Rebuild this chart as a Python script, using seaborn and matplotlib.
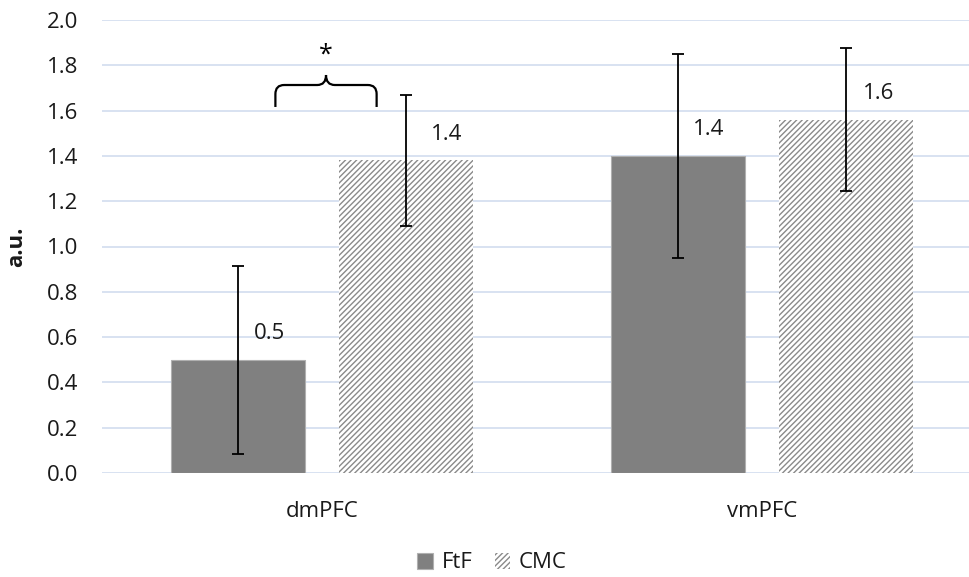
import matplotlib
matplotlib.use("Agg")
import matplotlib.pyplot as plt
from matplotlib.path import Path
from matplotlib.patches import PathPatch
import seaborn as sns
import pandas as pd

regions = ["dmPFC", "vmPFC"]
conditions = ["FtF", "CMC"]
ftf_values = [0.50, 1.40]
cmc_values = [1.38, 1.56]
ftf_errors = [0.415, 0.452]
cmc_errors = [0.29, 0.315]
value_labels_ftf = ["0.5", "1.4"]
value_labels_cmc = ["1.4", "1.6"]
y_ticks = [0.0, 0.2, 0.4, 0.6, 0.8, 1.0, 1.2, 1.4, 1.6, 1.8, 2.0]
y_label = "a.u."
sig_mark = "*"

sns.set_theme(style="white")
plt.rcParams["font.family"] = ["Open Sans", "DejaVu Sans"]
plt.rcParams["hatch.linewidth"] = 1.0

TXT = "#1a1a1a"
FS = 16

df = pd.DataFrame({
    "region": regions * 2,
    "condition": [conditions[0]] * 2 + [conditions[1]] * 2,
    "value": ftf_values + cmc_values,
})

fig = plt.figure(figsize=(9.69, 5.77), dpi=100)
ax = fig.add_axes([102 / 969, 104 / 577, 867 / 969, 453 / 577])

sns.barplot(data=df, x="region", y="value", hue="condition",
            palette=["#808080", "#ffffff"], width=0.764, gap=0.2,
            errorbar=None, legend=False, ax=ax, zorder=2)

# style bars
for p in ax.containers[0]:
    p.set_edgecolor("#b0b0b0")
    p.set_linewidth(0.8)
for p in ax.containers[1]:
    p.set_facecolor("white")
    p.set_edgecolor("#8a8a8a")
    p.set_hatch("//////")
    p.set_linewidth(0)

# error bars and value labels
errs = [ftf_errors, cmc_errors]
labs = [value_labels_ftf, value_labels_cmc]
dxs = [[23, 22], [29, 23]]
for ci, cont in enumerate(ax.containers[:2]):
    for bi, p in enumerate(cont):
        xc = p.get_x() + p.get_width() / 2
        h = p.get_height()
        ax.errorbar(xc, h, yerr=errs[ci][bi], fmt="none", ecolor="black",
                    elinewidth=1.3, capsize=4.5, capthick=1.3, zorder=4)
        ax.annotate(labs[ci][bi], (xc, h), xytext=(dxs[ci][bi], 19),
                    textcoords="offset points", ha="center", va="center",
                    fontsize=FS, color=TXT, zorder=5)

ax.set_xlim(-0.5, 1.47)
ax.set_ylim(0, 2.0)
ax.set_yticks(y_ticks)
ax.set_yticklabels([f"{t:.1f}" for t in y_ticks])
ax.yaxis.grid(True, color="#d5dff0", linewidth=1.3, zorder=0)
ax.set_axisbelow(True)
for s in ax.spines.values():
    s.set_visible(False)
ax.tick_params(axis="both", length=0, labelsize=FS, labelcolor=TXT)
ax.tick_params(axis="y", pad=17)
ax.tick_params(axis="x", pad=20)
ax.set_xlabel("")
ax.set_ylabel(y_label, fontsize=FS, fontweight="bold", color=TXT, labelpad=14)

# significance brace
x0, x1, xc = -0.106, 0.124, 0.009
yb, ym, yt = 1.616, 1.713, 1.757
rx, ry = 0.02, 0.04
verts = [(x0, yb), (x0, ym - ry), (x0, ym), (x0 + rx, ym),
         (xc - rx, ym), (xc, ym), (xc, yt),
         (xc, ym), (xc + rx, ym),
         (x1 - rx, ym), (x1, ym), (x1, ym - ry), (x1, yb)]
codes = [Path.MOVETO, Path.LINETO, Path.CURVE3, Path.CURVE3,
         Path.LINETO, Path.CURVE3, Path.CURVE3,
         Path.CURVE3, Path.CURVE3,
         Path.LINETO, Path.CURVE3, Path.CURVE3, Path.LINETO]
ax.add_patch(PathPatch(Path(verts, codes), fill=False, edgecolor="black",
                       linewidth=1.6, zorder=5, clip_on=False))
ax.text(xc, 1.845, sig_mark, ha="center", va="center", fontsize=FS + 2,
        color="black", zorder=5)

handles = [ax.containers[0][0], ax.containers[1][0]]
fig.legend(handles, conditions, loc="center", bbox_to_anchor=(492 / 969, 1 - 563 / 577),
           ncol=2, frameon=False, fontsize=FS, handlelength=0.7, handleheight=0.7,
           handletextpad=0.4, columnspacing=1.0, labelcolor=TXT)

fig.savefig("out.png", dpi=100)
